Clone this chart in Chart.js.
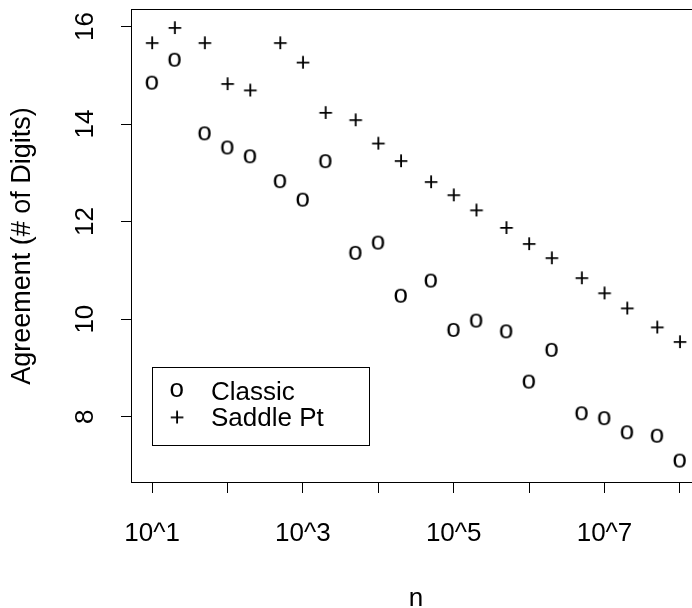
<!DOCTYPE html>
<html lang="en">
<head>
    <meta charset="UTF-8">
    <title>Agreement vs n</title>
    <script src="https://cdn.jsdelivr.net/npm/chart.js"></script>
    <style>
        body {
            margin: 0;
            background: #fff;
        }
        #wrap {
            width: 692px;
            height: 608px;
            overflow: hidden;
        }
    </style>
</head>
<body>
    <div id="wrap">
        <canvas id="agreeChart" width="720" height="608"></canvas>
    </div>

    <script>
        // n values (1, 2, 5 steps per decade)
        const nValues = [10, 20, 50, 100, 200, 500, 1e3, 2e3, 5e3, 1e4, 2e4,
                         5e4, 1e5, 2e5, 5e5, 1e6, 2e6, 5e6, 1e7, 2e7, 5e7, 1e8];

        // agreement in number of digits
        const classic = [14.85, 15.32, 13.81, 13.52, 13.34, 12.83, 12.45, 13.24, 11.36, 11.57, 10.48,
                         10.79, 9.78, 9.97, 9.75, 8.72, 9.37, 8.07, 7.97, 7.68, 7.61, 7.10];
        const saddlePt = [15.68, 15.99, 15.68, 14.84, 14.71, 15.68, 15.28, 14.25, 14.10, 13.62, 13.26,
                          12.83, 12.56, 12.25, 11.89, 11.56, 11.27, 10.86, 10.55, 10.24, 9.85, 9.55];

        const seriesNames = ["Classic", "Saddle Pt"];
        const seriesGlyphs = ["o", "+"];

        const xTickValues = [1e1, 1e2, 1e3, 1e4, 1e5, 1e6, 1e7, 1e8];
        const xTickLabels = ["10^1", "", "10^3", "", "10^5", "", "10^7", ""];
        const yTickValues = [8, 10, 12, 14, 16];

        const FONT = '"Liberation Sans", Arial, Helvetica, sans-serif';

        // draw a text glyph (like R's pch="o") centred on its ink
        function makeGlyph(ch, size) {
            let c = document.createElement("canvas");
            c.width = 32;
            c.height = 32;
            let g = c.getContext("2d");
            g.font = size + "px " + FONT;
            g.fillStyle = "#000";
            let m = g.measureText(ch);
            let w = m.actualBoundingBoxLeft + m.actualBoundingBoxRight;
            let h = m.actualBoundingBoxAscent + m.actualBoundingBoxDescent;
            g.fillText(ch, (32 - w) / 2 + m.actualBoundingBoxLeft, (32 - h) / 2 + m.actualBoundingBoxAscent);
            return c;
        }

        const glyphs = seriesGlyphs.map(ch => makeGlyph(ch, 26));

        // box around the plot region plus an R style legend
        const rFrame = {
            id: "rFrame",
            afterDraw(chart) {
                let ctx = chart.ctx;
                let a = chart.chartArea;
                ctx.save();
                ctx.strokeStyle = "#000";
                ctx.lineWidth = 1;
                ctx.strokeRect(a.left + 0.5, a.top + 0.5, a.right - a.left - 1, a.bottom - a.top - 1);

                // legend
                ctx.strokeRect(152.5, 367.5, 217, 78);
                ctx.font = "26px " + FONT;
                ctx.fillStyle = "#000";
                ctx.textBaseline = "alphabetic";
                let rows = [390, 416.5];
                chart.data.datasets.forEach((ds, i) => {
                    let img = ds.pointStyle;
                    ctx.drawImage(img, 177 - img.width / 2, rows[i] - img.height / 2);
                    ctx.fillText(ds.label, 211, rows[i] + 9.5);
                });
                ctx.restore();
            }
        };

        Chart.defaults.font.family = FONT;
        Chart.defaults.font.size = 26;
        Chart.defaults.color = "#000";

        let ctx = document.getElementById("agreeChart").getContext("2d");
        let agreeChart = new Chart(ctx, {
            type: "scatter",
            data: {
                datasets: [
                    {
                        label: seriesNames[0],
                        data: nValues.map((n, i) => ({ x: n, y: classic[i] })),
                        pointStyle: glyphs[0]
                    },
                    {
                        label: seriesNames[1],
                        data: nValues.map((n, i) => ({ x: n, y: saddlePt[i] })),
                        pointStyle: glyphs[1]
                    }
                ]
            },
            options: {
                responsive: false,
                animation: false,
                devicePixelRatio: 1,
                layout: { padding: { top: 9, right: 19, bottom: 0, left: 0 } },
                plugins: {
                    legend: { display: false },
                    tooltip: { enabled: false }
                },
                scales: {
                    x: {
                        type: "logarithmic",
                        min: Math.pow(10, 0.72),
                        max: Math.pow(10, 8.28),
                        afterBuildTicks(scale) {
                            scale.ticks = xTickValues.map(v => ({ value: v }));
                        },
                        afterFit(scale) {
                            scale.height = 125;
                            scale.paddingLeft = 0;
                            scale.paddingRight = 0;
                        },
                        border: { display: false },
                        grid: { drawOnChartArea: false, tickLength: 10, color: "#000", lineWidth: 1 },
                        ticks: {
                            autoSkip: false,
                            maxRotation: 0,
                            padding: 25,
                            callback: (value, index) => xTickLabels[index]
                        },
                        title: {
                            display: true,
                            text: "n",
                            font: { size: 26, lineHeight: 0.67 },
                            padding: { top: 0, bottom: 0 }
                        }
                    },
                    y: {
                        min: 6.64,
                        max: 16.36,
                        afterBuildTicks(scale) {
                            scale.ticks = yTickValues.map(v => ({ value: v }));
                        },
                        afterFit(scale) {
                            scale.width = 131;
                            scale.paddingTop = 0;
                            scale.paddingBottom = 0;
                        },
                        border: { display: false },
                        grid: { drawOnChartArea: false, tickLength: 10, color: "#000", lineWidth: 1 },
                        ticks: {
                            minRotation: 90,
                            maxRotation: 90,
                            crossAlign: "center",
                            padding: 21
                        },
                        title: {
                            display: true,
                            text: "Agreement (# of Digits)",
                            font: { size: 27 },
                            padding: { top: 6, bottom: 0 }
                        }
                    }
                }
            },
            plugins: [rFrame]
        });
    </script>
</body>
</html>
